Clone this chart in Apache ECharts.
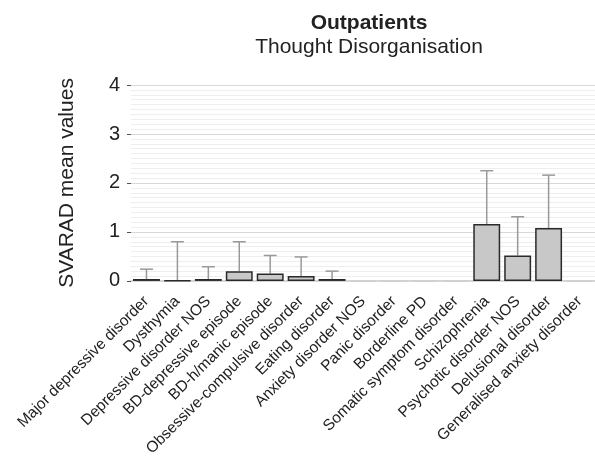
<!DOCTYPE html>
<html>
<head>
<meta charset="utf-8">
<script src="https://cdn.jsdelivr.net/npm/echarts@6/dist/echarts.min.js"></script>
<style>
  html, body { margin: 0; padding: 0; background: #fff; }
  #chart { width: 595px; height: 459px; }
</style>
</head>
<body>
<div id="chart"></div>
<script>
// diagnoses on the x axis
const categories = [
  "Major depressive disorder", "Dysthymia", "Depressive disorder NOS",
  "BD-depressive episode", "BD-h/manic episode", "Obsessive-compulsive disorder",
  "Eating disorder", "Anxiety disorder NOS", "Panic disorder", "Borderline PD",
  "Somatic symptom disorder", "Schizophrenia", "Psychotic disorder NOS",
  "Delusional disorder", "Generalised anxiety disorder"
];
// mean SVARAD values (bar heights)
const means = [0.04, 0.01, 0.04, 0.20, 0.15, 0.10, 0.04, 0, 0, 0, 0, 1.16, 0.52, 1.08, 0];
// upper end of the error bar (null = no error bar)
const upper = [0.24, 0.80, 0.29, 0.80, 0.52, 0.49, 0.20, null, null, null, null, 2.25, 1.31, 2.16, null];
const yTicks = [0, 1, 2, 3, 4];

const font = "Liberation Sans, Arial, Helvetica, sans-serif";
const chart = echarts.init(document.getElementById("chart"));

const errData = categories.map((c, i) => [i, means[i], upper[i]]).filter(d => d[2] !== null);
// empty groups only show a faint line on the baseline
const barData = means.map(v => v === 0 ? { value: v, itemStyle: { borderColor: "#d0d0d0" } } : v);

chart.setOption({
  animation: false,
  title: [
    { text: "Outpatients", left: 364, top: 8, textAlign: "center",
      textStyle: { fontFamily: font, fontSize: 21, fontWeight: "bold", color: "#222" } },
    { text: "Thought Disorganisation", left: 364, top: 32, textAlign: "center",
      textStyle: { fontFamily: font, fontSize: 21, fontWeight: "normal", color: "#222" } }
  ],
  grid: { left: 131, right: 0, top: 85, bottom: 178 },
  xAxis: {
    type: "category",
    data: categories,
    axisLine: { lineStyle: { color: "#d6d6d6", width: 2 } },
    axisTick: { show: false },
    axisLabel: {
      rotate: 45, interval: 0, margin: 18,
      fontFamily: font, fontSize: 15.5, color: "#222"
    }
  },
  yAxis: {
    type: "value",
    min: yTicks[0], max: yTicks[yTicks.length - 1], interval: 1,
    name: "SVARAD mean values",
    nameLocation: "middle", nameGap: 53, nameRotate: 90,
    nameTextStyle: { fontFamily: font, fontSize: 21, color: "#222" },
    axisLine: { show: false },
    axisTick: { show: true, length: 4, lineStyle: { color: "#555" } },
    axisLabel: { margin: 11, fontFamily: font, fontSize: 20, color: "#222" },
    splitLine: { lineStyle: { color: "#d8d8d8", width: 1 } },
    minorTick: { show: false, splitNumber: 10 },
    minorSplitLine: { show: true, lineStyle: { color: "#eeeeee", width: 1 } }
  },
  series: [
    {
      type: "custom",
      z: 1,
      data: errData,
      renderItem: function (params, api) {
        const x = api.value(0);
        const lo = api.coord([x, api.value(1)]);
        const hi = api.coord([x, api.value(2)]);
        const half = 6.5;
        const style = { stroke: "#999", lineWidth: 1.5 };
        return {
          type: "group",
          children: [
            { type: "line", shape: { x1: lo[0], y1: lo[1], x2: hi[0], y2: hi[1] }, style: style },
            { type: "line", shape: { x1: hi[0] - half, y1: hi[1], x2: hi[0] + half, y2: hi[1] }, style: style }
          ]
        };
      }
    },
    {
      type: "bar",
      z: 2,
      data: barData,
      barCategoryGap: "13%",
      itemStyle: { color: "#c8c8c8", borderColor: "#2a2a2a", borderWidth: 1.5 }
    }
  ]
});
</script>
</body>
</html>
